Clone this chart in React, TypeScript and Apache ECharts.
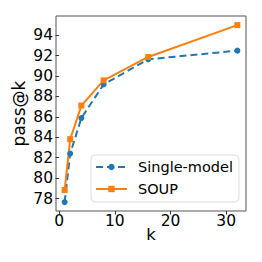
import React, { useEffect, useRef } from "react";
import * as echarts from "echarts";

const kValues = [1, 2, 4, 8, 16, 32];
const singleModel = [77.65, 82.4, 85.88, 89.17, 91.63, 92.48];
const soup = [78.83, 83.81, 87.1, 89.57, 91.86, 94.98];
const yTicks = [78, 80, 82, 84, 86, 88, 90, 92, 94];
const xTicks = [0, 10, 20, 30];

const FONT = "DejaVu Sans";

export default function App() {
  const ref = useRef<HTMLDivElement>(null);
  useEffect(() => {
    if (!ref.current) return;
    const chart = echarts.init(ref.current, undefined, { renderer: "svg" });
    chart.setOption({
      animation: false,
      backgroundColor: "#ffffff",
      textStyle: { fontFamily: FONT },
      grid: {
        left: 56,
        top: 16,
        right: 16,
        bottom: 51,
        show: true,
        borderColor: "#555",
        borderWidth: 1,
      },
      legend: {
        orient: "vertical",
        left: 91,
        top: 155,
        itemWidth: 31,
        itemHeight: 8,
        itemGap: 6,
        padding: [4, 6, 5, 4],
        borderColor: "#ddd",
        borderWidth: 1,
        borderRadius: 4,
        backgroundColor: "rgba(255,255,255,0.8)",
        textStyle: {
          fontFamily: FONT,
          fontSize: 14.5,
          lineHeight: 16,
          color: "#000",
          padding: [0, 0, 0, 6],
        },
        data: ["Single-model", "SOUP"],
      },
      xAxis: {
        type: "value",
        min: -0.55,
        max: 33.55,
        name: "k",
        nameLocation: "middle",
        nameGap: 15,
        nameMoveOverlap: false,
        nameTextStyle: { fontFamily: FONT, fontSize: 16.5, color: "#000" },
        axisLine: { show: false },
        splitLine: { show: false },
        axisTick: { show: true, customValues: xTicks, length: 3.5, lineStyle: { color: "#333" } },
        axisLabel: { customValues: xTicks, fontFamily: FONT, fontSize: 15.5, color: "#000", margin: 2 },
      },
      yAxis: {
        type: "value",
        min: 76.78,
        max: 95.87,
        name: "pass@k",
        nameLocation: "middle",
        nameGap: 28.5,
        nameMoveOverlap: false,
        nameTextStyle: { fontFamily: FONT, fontSize: 17, color: "#000" },
        axisLine: { show: false },
        splitLine: { show: false },
        axisTick: { show: true, customValues: yTicks, length: 3.5, lineStyle: { color: "#333" } },
        axisLabel: { customValues: yTicks, fontFamily: FONT, fontSize: 15.5, color: "#000", margin: 3 },
      },
      series: [
        {
          name: "Single-model",
          type: "line",
          data: kValues.map((k, i) => [k, singleModel[i]]),
          symbol: "circle",
          symbolSize: 6,
          itemStyle: { color: "#1f77b4" },
          lineStyle: { color: "#1f77b4", width: 2, type: [7, 4] },
        },
        {
          name: "SOUP",
          type: "line",
          data: kValues.map((k, i) => [k, soup[i]]),
          symbol: "rect",
          symbolSize: 6,
          itemStyle: { color: "#ff7f0e" },
          lineStyle: { color: "#ff7f0e", width: 2 },
        },
      ],
    });
    return () => chart.dispose();
  }, []);
  return (
    <div
      ref={ref}
      style={{ position: "fixed", left: 0, top: 0, width: 262, height: 262 }}
    />
  );
}
